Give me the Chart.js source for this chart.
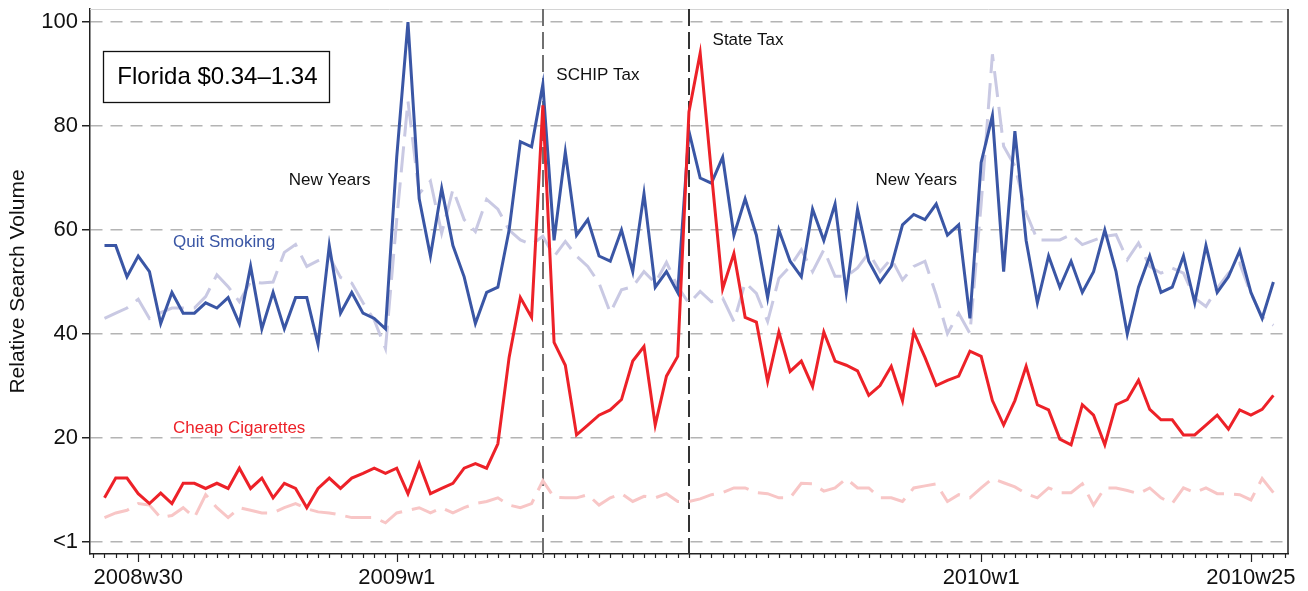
<!DOCTYPE html>
<html>
<head>
<meta charset="utf-8">
<script src="https://cdn.jsdelivr.net/npm/chart.js@4.4.1/dist/chart.umd.min.js"></script>
<style>
  html, body { margin: 0; padding: 0; background: #ffffff; }
  #wrap { width: 1308px; height: 591px; }
</style>
</head>
<body>
<div id="wrap"><canvas id="c" width="1308" height="591"></canvas></div>
<script>
// ---- categories: ISO weeks 2008w27 .. 2010w27 ----
const weeks = [];
for (let w = 27; w <= 52; w++) weeks.push('2008w' + w);
for (let w = 1; w <= 52; w++) weeks.push('2009w' + w);
for (let w = 1; w <= 27; w++) weeks.push('2010w' + w);

const xTickLabels = ['2008w30', '2009w1', '2010w1', '2010w25'];
const yTickValues = [0, 20, 40, 60, 80, 100];
const yTickLabels = ['<1', '20', '40', '60', '80', '100'];

// ---- series (Florida) ----
const quitSmoking = [
  57,57,51,55,52,42,48,44,44,46,45,47,42,53,41,48,41,47,
  47,38,57,44,48,44,43,41,74,100,66,55,68,57,51,42,48,49,
  60,77,76,88,58,75,59,62,55,54,60,52,67,49,52,48,79,
  70,69,74,59,66,59,47,60,54,51,64,58,65,48,64,54,50,53,
  61,63,62,65,59,61,43,73,82,52,79,58,46,55,49,54,48,52,
  60,52,40,49,55,48,49,55,46,57,48,51,56,48,43,50
];
const cheapCigarettes = [
  8.5,12.3,12.3,9.3,7.4,9.4,7.4,11.3,11.3,10.3,11.3,10.3,14.2,10.3,12.3,8.5,11.3,10.3,
  6.6,10.3,12.3,10.3,12.3,13.2,14.2,13.2,14.2,9.3,15.1,9.3,10.3,11.3,14.2,15.1,14.2,18.9,
  35.5,47,43.2,84,38.4,34,20.6,22.5,24.4,25.4,27.4,34.8,37.6,22.5,31.9,35.7,82.7,
  94,71,48.7,55.5,43.2,42.3,30.9,40.4,32.8,34.8,29.9,40.4,34.8,34,32.9,28.2,30.1,33.8,
  27.2,40.4,35.5,30.1,31.1,31.9,36.7,35.7,27.2,22.5,27.2,33.8,26.4,25.4,19.8,18.7,26.4,24.4,
  18.7,26.4,27.4,31.1,25.5,23.5,23.5,20.6,20.6,22.5,24.4,21.7,25.4,24.4,25.5,28.2
];
const quitSmokingBase = [
  43,44,45,46.7,43,44.1,45,45,45,47.2,51.4,49.1,46.2,50.1,49.8,50,55.7,57.2,
  53,54.1,54.9,50.9,49.8,46,42.7,37.2,62,84.8,67,69.4,59.4,67.8,62,59.7,65.9,64,
  60,58.1,57.2,58.8,54.9,57.8,55,53,49.8,44.1,48.5,49.1,52,49.8,53.8,49.1,45.9,
  48.2,46.2,46.9,42.4,49.9,47.8,42.4,50.7,53,56.2,52,56.2,51.1,51.1,52.7,55.6,52,54.5,
  50.4,53,54,47.5,40.1,44,40.1,65,93.8,76.1,72.3,63.3,58.1,58.1,58.1,59.1,57.2,58,
  58.8,59.1,54.3,57.5,53,51.7,52.7,51.7,46.9,45.3,48.8,51.7,53.6,47.8,43.3,41.7
];
const cheapCigarettesBase = [
  4.7,5.6,6.1,7.4,7.1,4.7,5.1,6.6,4.7,9.1,6.6,4.7,6.6,6.1,5.6,5.6,6.6,7.4,
  6.4,5.8,5.6,5.2,4.7,4.7,4.7,3.7,5.6,6.1,6.6,5.6,6.6,5.6,6.6,7.4,7.8,8.5,
  7.1,6.6,7.4,11.8,8.6,8.5,8.5,9.1,7.1,8.5,9.3,7.8,8.8,8.5,9.3,7.8,7.8,
  8.3,9.1,9.5,10.4,10.4,9.5,9.3,8.5,8.5,11.3,11.2,9.8,10.4,12.2,10.4,10.4,8.5,8.5,
  7.8,10.4,10.8,11.2,7.8,9.1,8.5,10.4,12.2,11.4,10.6,9.3,8.5,10.4,9.5,9.5,11.2,7.1,
  10.4,10.4,9.9,9.3,10.4,8.5,7.4,10.4,9.5,10.4,9.3,9.3,9.1,8.1,12.2,9.5
];

// ---- events & text annotations ----
const eventWeeks = ['2009w14', '2009w27'];
const eventColors = ['#707070', '#333333'];
const annotations = [
  { text: 'New Years',        week: 16.4, value: 69.6, color: '#111111' },
  { text: 'SCHIP Tax',        week: 40.2, value: 89.8, color: '#111111' },
  { text: 'State Tax',        week: 54.1, value: 96.5, color: '#111111' },
  { text: 'New Years',        week: 68.6, value: 69.6, color: '#111111' },
  { text: 'Quit Smoking',     week: 6.1,  value: 57.7, color: '#3a56a5' },
  { text: 'Cheap Cigarettes', week: 6.1,  value: 21.9, color: '#ed2128' }
];
const boxTitle = 'Florida $0.34\u20131.34';

const FONT = '"Liberation Sans", Arial, Helvetica, sans-serif';
const toXY = arr => arr.map((v, i) => ({ x: i, y: v }));

const overlay = {
  id: 'overlay',
  beforeDatasetsDraw(chart) {
    const { ctx, chartArea: a, scales: { x } } = chart;
    ctx.save();
    // top and right frame
    ctx.strokeStyle = '#d4d4d4'; ctx.lineWidth = 1;
    ctx.beginPath(); ctx.moveTo(a.left, a.top + 0.5); ctx.lineTo(a.right, a.top + 0.5); ctx.stroke();
    ctx.strokeStyle = '#222'; ctx.lineWidth = 1.5;
    ctx.beginPath(); ctx.moveTo(a.right, a.top); ctx.lineTo(a.right, a.bottom); ctx.stroke();
    // event lines
    eventWeeks.forEach((wk, k) => {
      const px = Math.round(x.getPixelForValue(weeks.indexOf(wk)));
      ctx.strokeStyle = eventColors[k]; ctx.lineWidth = 2; ctx.setLineDash([17, 6]);
      ctx.beginPath(); ctx.moveTo(px, a.top); ctx.lineTo(px, a.bottom); ctx.stroke();
    });
    ctx.setLineDash([]);
    // x tick marks (weekly minor, labelled major)
    ctx.strokeStyle = '#222'; ctx.lineWidth = 1.2;
    for (let i = Math.ceil(x.min); i <= Math.floor(x.max); i++) {
      const px = Math.round(x.getPixelForValue(i)) + 0.5;
      const major = xTickLabels.includes(weeks[i]);
      ctx.beginPath(); ctx.moveTo(px, a.bottom); ctx.lineTo(px, a.bottom + (major ? 8 : 4)); ctx.stroke();
    }
    ctx.restore();
  },
  afterDatasetsDraw(chart) {
    const { ctx, scales: { x, y } } = chart;
    ctx.save();
    ctx.font = '17px ' + FONT;
    ctx.textBaseline = 'middle'; ctx.textAlign = 'left';
    annotations.forEach(an => {
      ctx.fillStyle = an.color;
      ctx.fillText(an.text, x.getPixelForValue(an.week), y.getPixelForValue(an.value));
    });
    // title box
    const bx = x.getPixelForValue(-0.1), by = y.getPixelForValue(94.5);
    const bw = 226, bh = 51;
    ctx.fillStyle = '#fff'; ctx.fillRect(bx, by, bw, bh);
    ctx.strokeStyle = '#111'; ctx.lineWidth = 1.3;
    ctx.strokeRect(Math.round(bx) + 0.5, Math.round(by) + 0.5, bw, bh);
    ctx.fillStyle = '#000'; ctx.font = '24px ' + FONT;
    ctx.fillText(boxTitle, bx + 14, by + bh / 2 + 1);
    ctx.restore();
  }
};

new Chart(document.getElementById('c'), {
  type: 'line',
  data: {
    datasets: [
      { label: 'Quit Smoking (baseline)', data: toXY(quitSmokingBase), borderColor: '#c9c9e3',
        borderWidth: 3, borderDash: [26, 10], pointRadius: 0, tension: 0, order: 4 },
      { label: 'Cheap Cigarettes (baseline)', data: toXY(cheapCigarettesBase), borderColor: '#f8c6c6',
        borderWidth: 3, borderDash: [26, 10], pointRadius: 0, tension: 0, order: 3 },
      { label: 'Quit Smoking', data: toXY(quitSmoking), borderColor: '#3a56a5',
        borderWidth: 3, pointRadius: 0, tension: 0, order: 2 },
      { label: 'Cheap Cigarettes', data: toXY(cheapCigarettes), borderColor: '#ed2128',
        borderWidth: 3, pointRadius: 0, tension: 0, order: 1 }
    ]
  },
  options: {
    responsive: false,
    animation: false,
    devicePixelRatio: 1,
    layout: { padding: { top: 9, right: 20, left: 0, bottom: 0 } },
    plugins: { legend: { display: false }, tooltip: { enabled: false } },
    scales: {
      x: {
        type: 'linear', min: -1.29, max: 105.3,
        afterFit: s => { s.height = 37; s.paddingLeft = 0; s.paddingRight = 0; },
        grid: { display: false, drawTicks: false },
        border: { display: true, color: '#222', width: 1.5 },
        ticks: {
          stepSize: 1, autoSkip: false, maxRotation: 0, minRotation: 0, includeBounds: false,
          padding: 11, color: '#111', font: { family: FONT, size: 22 },
          callback: v => (xTickLabels.includes(weeks[v]) ? weeks[v] : '')
        }
      },
      y: {
        min: -2.3, max: 102.5,
        afterFit: s => { s.width = 90; s.paddingTop = 0; s.paddingBottom = 0; },
        afterBuildTicks: s => { s.ticks = yTickValues.map(v => ({ value: v })); },
        grid: { color: '#b4b4b4', lineWidth: 1.5, tickColor: '#222', tickLength: 8, tickWidth: 1.5 },
        border: { display: true, color: '#222', width: 1.5, dash: [12, 8] },
        ticks: {
          padding: 4, color: '#111', font: { family: FONT, size: 22 },
          callback: v => yTickLabels[yTickValues.indexOf(v)]
        },
        title: { display: true, text: 'Relative Search Volume', color: '#111',
                 font: { family: FONT, size: 21 }, padding: { top: 6, bottom: 0 } }
      }
    }
  },
  plugins: [overlay]
});
</script>
</body>
</html>
